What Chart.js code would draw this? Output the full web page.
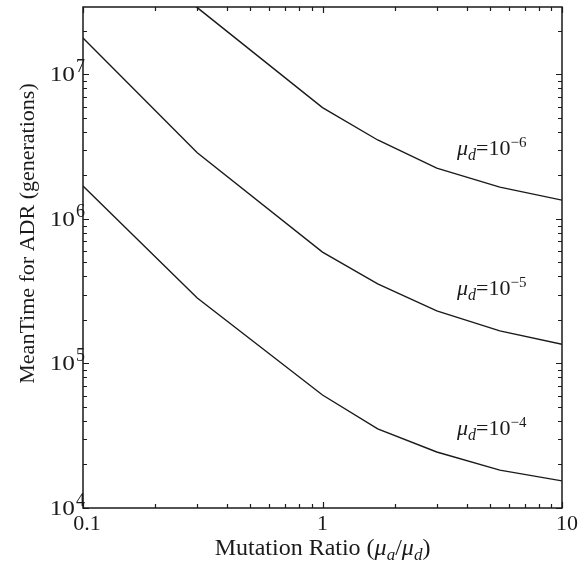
<!DOCTYPE html>
<html>
<head>
<meta charset="utf-8">
<script src="https://cdn.jsdelivr.net/npm/chart.js@4"></script>
<style>
html,body{margin:0;padding:0;background:#fff;}
#wrap{position:relative;width:583px;height:570px;}
</style>
</head>
<body>
<div id="wrap"><canvas id="c" width="583" height="570"></canvas></div>
<script>
// ---- data ----
const ratios = [0.1, 0.3, 1, 1.7, 3, 5.5, 10];
const mu6 = [1.8e8, 2.9e7, 5.9e6, 3.52e6, 2.25e6, 1.66e6, 1.35e6];
const mu5 = [1.79e7, 2.87e6, 5.9e5, 3.55e5, 2.31e5, 1.68e5, 1.36e5];
const mu4 = [1.69e6, 2.84e5, 6.05e4, 3.53e4, 2.44e4, 1.83e4, 1.54e4];
const seriesExp = ['6', '5', '4'];
const labelAt = [2.77e6, 2.98e5, 3.2e4]; // y value of each curve label baseline
const xTickLabels = ['0.1', '1', '10'];
const xTickValues = [0.1, 1, 10];
const yTickExps = [4, 5, 6, 7];
const xMin = 0.1, xMax = 10, yMin = 1e4, yMax = 2.93e7;

const SERIF = '"Liberation Serif", "DejaVu Serif", serif';
const INK = '#1a1a1a';

function pts(ys) { return ratios.map((x, i) => ({x: x, y: ys[i]})); }

const mkDs = (d) => ({data: pts(d), borderColor: INK, borderWidth: 1.4, pointRadius: 0, tension: 0, fill: false});

const decor = {
  id: 'decor',
  afterDraw(chart) {
    const ctx = chart.ctx;
    const xs = chart.scales.x, ys = chart.scales.y;
    const a = chart.chartArea;
    ctx.save();
    ctx.strokeStyle = INK;
    ctx.fillStyle = INK;
    // frame
    ctx.lineWidth = 1.5;
    ctx.strokeRect(a.left, a.top, a.right - a.left, a.bottom - a.top);
    // x ticks (inward, top and bottom)
    ctx.lineWidth = 1.2;
    for (let d = -1; d <= 1; d++) {
      for (let m = 1; m <= 9; m++) {
        const v = m * Math.pow(10, d);
        if (v < xMin - 1e-9 || v > xMax + 1e-9) continue;
        const px = Math.round(xs.getPixelForValue(v)) + 0.5;
        const len = m === 1 ? 6 : 4;
        ctx.beginPath();
        ctx.moveTo(px, a.bottom); ctx.lineTo(px, a.bottom - len);
        ctx.moveTo(px, a.top); ctx.lineTo(px, a.top + len);
        ctx.stroke();
      }
    }
    // y ticks (inward, left and right)
    for (let e = 4; e <= 7; e++) {
      for (let m = 1; m <= 9; m++) {
        const v = m * Math.pow(10, e);
        if (v < yMin || v > yMax) continue;
        const py = Math.round(ys.getPixelForValue(v)) + 0.5;
        const len = m === 1 ? 6 : 4;
        ctx.beginPath();
        ctx.moveTo(a.left, py); ctx.lineTo(a.left + len, py);
        ctx.moveTo(a.right, py); ctx.lineTo(a.right - len, py);
        ctx.stroke();
      }
    }
    // x tick labels
    ctx.font = '22px ' + SERIF;
    ctx.textAlign = 'center';
    ctx.textBaseline = 'alphabetic';
    xTickValues.forEach((v, i) => {
      let px = xs.getPixelForValue(v);
      if (i === 0) px += 4;
      if (i === xTickValues.length - 1) px += 5;
      ctx.fillText(xTickLabels[i], px, 530);
    });
    // y tick labels 10^e
    yTickExps.forEach((e) => {
      const py = ys.getPixelForValue(Math.pow(10, e));
      ctx.save();
      ctx.translate(75, py + 7);
      ctx.scale(1.15, 1);
      ctx.font = '22px ' + SERIF;
      ctx.textAlign = 'right';
      ctx.fillText('10', 0, 0);
      ctx.restore();
      ctx.font = '18px ' + SERIF;
      ctx.textAlign = 'left';
      ctx.fillText(String(e), 76, py - 2);
    });
    // curve labels
    const drawMuLabel = (x, y, exp) => {
      ctx.textAlign = 'left';
      ctx.font = 'italic 22px ' + SERIF;
      ctx.fillText('\u03bc', x, y);
      let cx = x + ctx.measureText('\u03bc').width;
      ctx.font = 'italic 16px ' + SERIF;
      ctx.fillText('d', cx, y + 5);
      cx += ctx.measureText('d').width;
      ctx.font = '22px ' + SERIF;
      ctx.fillText('=10', cx, y);
      cx += ctx.measureText('=10').width;
      ctx.font = '15px ' + SERIF;
      ctx.fillText('\u2212' + exp, cx, y - 8);
    };
    seriesExp.forEach((e, i) => {
      drawMuLabel(457, ys.getPixelForValue(labelAt[i]), e);
    });
    // x title
    const cxMid = (a.left + a.right) / 2;
    const parts = [
      ['Mutation Ratio (', '24px', 0],
      ['\u03bc', 'italic 24px', 0],
      ['a', 'italic 17px', 5],
      ['/', '24px', 0],
      ['\u03bc', 'italic 24px', 0],
      ['d', 'italic 17px', 5],
      [')', '24px', 0]
    ];
    let total = 0;
    parts.forEach(p => { ctx.font = p[1] + ' ' + SERIF; total += ctx.measureText(p[0]).width; });
    let tx = cxMid - total / 2;
    ctx.textAlign = 'left';
    parts.forEach(p => {
      ctx.font = p[1] + ' ' + SERIF;
      ctx.fillText(p[0], tx, 555 + p[2]);
      tx += ctx.measureText(p[0]).width;
    });
    // y title
    ctx.save();
    ctx.translate(34, (a.top + a.bottom) / 2 - 24);
    ctx.rotate(-Math.PI / 2);
    ctx.font = '22px ' + SERIF;
    ctx.textAlign = 'center';
    ctx.fillText('MeanTime for ADR (generations)', 0, 0);
    ctx.restore();
    ctx.restore();
  }
};

new Chart(document.getElementById('c'), {
  type: 'line',
  data: { datasets: [mkDs(mu6), mkDs(mu5), mkDs(mu4)] },
  options: {
    responsive: false,
    animation: false,
    events: [],
    layout: { padding: { left: 83, top: 7, right: 21, bottom: 62 } },
    plugins: { legend: { display: false }, tooltip: { enabled: false } },
    scales: {
      x: { type: 'logarithmic', min: xMin, max: xMax, display: false },
      y: { type: 'logarithmic', min: yMin, max: yMax, display: false }
    }
  },
  plugins: [decor]
});
</script>
</body>
</html>
